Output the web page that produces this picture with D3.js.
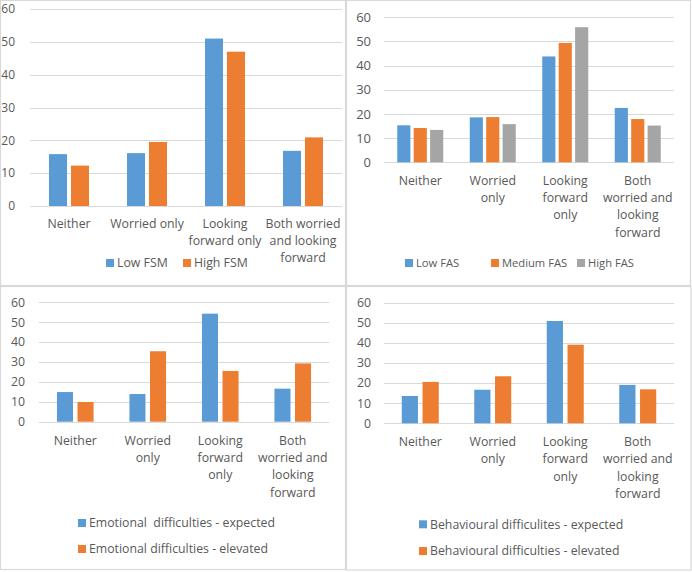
<!DOCTYPE html>
<html><head><meta charset="utf-8">
<script src="https://cdn.jsdelivr.net/npm/d3@7"></script>
<style>
body{margin:0;background:#fff;}
text{font-family:"Open Sans",sans-serif;fill:#595959;}
</style></head>
<body>
<svg id="chart" width="692" height="572"></svg>
<script>
// ---------- data ----------
const categories = ["Neither","Worried only","Looking forward only","Both worried and looking forward"];
const yTicks = [0,10,20,30,40,50,60];

// Panel 1 (FSM)
const fsmSeries = ["Low FSM","High FSM"];
const fsmLow  = [15.8, 16.1, 51.0, 16.8];
const fsmHigh = [12.3, 19.5, 47.0, 20.9];
const fsmLabels = [["Neither"],["Worried only"],["Looking","forward only"],["Both worried","and looking","forward"]];

// Panel 2 (FAS)
const fasSeries = ["Low FAS","Medium FAS","High FAS"];
const fasLow    = [15.3, 18.6, 43.8, 22.5];
const fasMedium = [14.2, 18.7, 49.4, 17.9];
const fasHigh   = [13.4, 15.8, 55.9, 15.2];
const narrowLabels = [["Neither"],["Worried","only"],["Looking","forward","only"],["Both","worried and","looking","forward"]];

// Panel 3 (Emotional)
const emoSeries = ["Emotional  difficulties - expected","Emotional difficulties - elevated"];
const emoExpected = [14.9, 13.9, 54.3, 16.6];
const emoElevated = [9.9, 35.4, 25.5, 29.3];

// Panel 4 (Behavioural)
const behSeries = ["Behavioural difficulites - expected","Behavioural difficulties - elevated"];
const behExpected = [13.6, 16.7, 50.9, 19.1];
const behElevated = [20.6, 23.4, 39.1, 16.9];

const colors = ["#5b9bd5","#ed7d31","#a5a5a5"];

// ---------- layout ----------
const panels = [
  {series: fsmSeries, values:[fsmLow, fsmHigh], labels: fsmLabels,
   x0:30, x1:342, yZero:206, yTop:9, groupW:40, pad:0.18, tickX:15, tickFs:12,
   labelY:224, lh:17, legend:{type:"row", y:263, xs:[106,183], fs:12.3}},
  {series: fasSeries, values:[fasLow, fasMedium, fasHigh], labels: narrowLabels,
   x0:384, x1:674, yZero:162.3, yTop:17.3, groupW:46, pad:0.2, tickX:371, tickFs:13,
   labelY:180.3, lh:17.3, legend:{type:"row", y:263, xs:[405,491,577], fs:11.2}},
  {series: emoSeries, values:[emoExpected, emoElevated], labels: narrowLabels,
   x0:39, x1:329, yZero:421.7, yTop:302.3, groupW:36.6, pad:0.22, tickX:25, tickFs:12.3,
   labelY:440.3, lh:17.3, legend:{type:"col", x:78, ys:[523,549], fs:12.3}},
  {series: behSeries, values:[behExpected, behElevated], labels: narrowLabels,
   x0:384, x1:674, yZero:423.3, yTop:302.7, groupW:37, pad:0.22, tickX:371, tickFs:12.3,
   labelY:441.7, lh:17.3, legend:{type:"col", x:419, ys:[524.3,551], fs:12.3}}
];

const svg = d3.select("#chart");

// panel frames
const frame = svg.append("g").attr("fill","none").attr("stroke","#d9d9d9").attr("stroke-width",1.2);
frame.append("rect").attr("x",0.5).attr("y",0.5).attr("width",345).attr("height",285);
frame.append("rect").attr("x",346.5).attr("y",0.5).attr("width",344).attr("height",285);
frame.append("rect").attr("x",0.5).attr("y",286.5).attr("width",345).attr("height",283);
frame.append("rect").attr("x",346.5).attr("y",286.5).attr("width",344.5).attr("height",283.5);

panels.forEach(p => {
  const g = svg.append("g");
  const y = d3.scaleLinear().domain([0,60]).range([p.yZero, p.yTop]);
  const x = d3.scaleBand().domain(categories).range([p.x0, p.x1]).padding(0);
  const inner = d3.scaleBand().domain(p.series)
     .range([(x.bandwidth()-p.groupW)/2, (x.bandwidth()+p.groupW)/2]).paddingInner(p.pad).paddingOuter(0);

  // gridlines
  g.selectAll("line.grid").data(yTicks).join("line")
    .attr("x1", p.x0).attr("x2", p.x1)
    .attr("y1", d => Math.round(y(d))+0.5).attr("y2", d => Math.round(y(d))+0.5)
    .attr("stroke","#d9d9d9").attr("stroke-width",1);

  // y tick labels
  g.selectAll("text.yt").data(yTicks).join("text")
    .attr("x", p.tickX).attr("y", d => y(d)).attr("dy","0.35em")
    .attr("text-anchor","end").attr("font-size", p.tickFs + "px").text(d => d);

  // bars
  p.series.forEach((s, si) => {
    g.selectAll("rect.s"+si).data(p.values[si]).join("rect")
      .attr("x", (d,i) => x(categories[i]) + inner(s))
      .attr("width", inner.bandwidth())
      .attr("y", d => y(d))
      .attr("height", d => y(0) - y(d))
      .attr("fill", colors[si]);
  });

  // category labels
  categories.forEach((c, i) => {
    const t = g.append("text").attr("text-anchor","middle").attr("font-size","12.3px");
    p.labels[i].forEach((ln, li) => {
      t.append("tspan").attr("x", x(c) + x.bandwidth()/2)
        .attr("y", p.labelY + li*p.lh).attr("dy","0.35em").text(ln);
    });
  });

  // legend
  const L = p.legend;
  p.series.forEach((s, si) => {
    const lx = L.type === "row" ? L.xs[si] : L.x;
    const ly = L.type === "row" ? L.y : L.ys[si];
    g.append("rect").attr("x", lx).attr("y", ly-4).attr("width",8).attr("height",8).attr("fill",colors[si]);
    g.append("text").attr("x", lx+11).attr("y", ly).attr("dy","0.35em")
      .attr("font-size", L.fs + "px").style("white-space","pre").text(s);
  });
});
</script>
</body></html>
